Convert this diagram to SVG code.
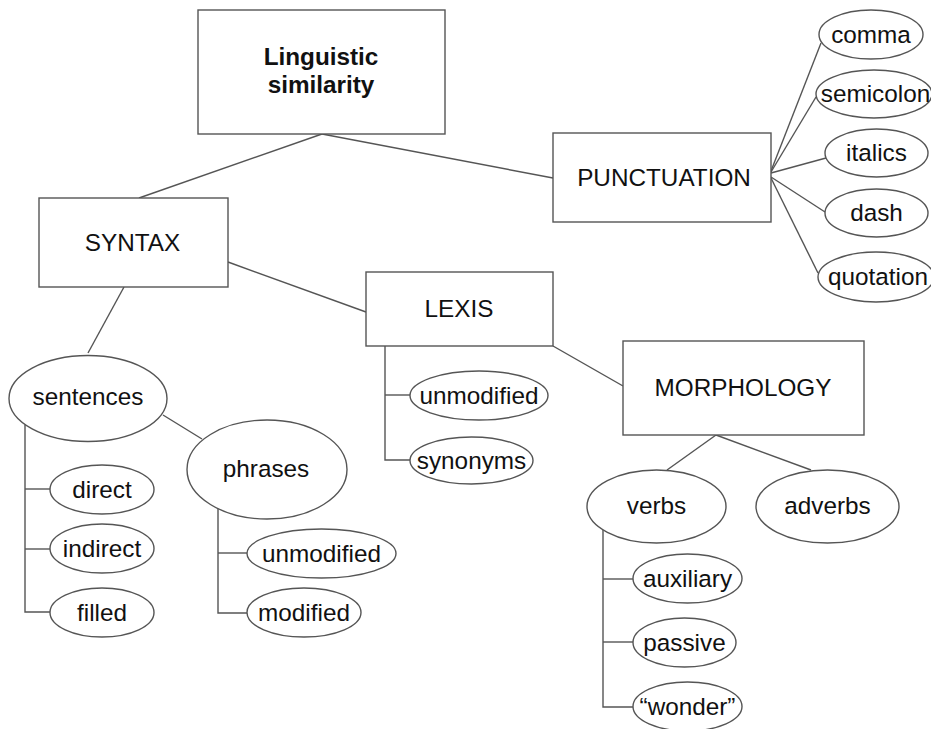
<svg xmlns="http://www.w3.org/2000/svg" width="931" height="729" viewBox="0 0 931 729">
<style>
.n rect,.n ellipse{fill:#fff;stroke:#555;stroke-width:1.4}
#edges line,#edges polyline{stroke:#555;stroke-width:1.4;fill:none}
text{font-family:"Liberation Sans",Arial,sans-serif;font-size:24.3px;fill:#111;text-anchor:middle}
.b{font-weight:bold}
</style>
<rect width="931" height="729" fill="#fff"/>
<g id="edges">
<line x1="322" y1="134" x2="139" y2="198"/>
<line x1="322" y1="134" x2="553" y2="178"/>
<line x1="771" y1="171" x2="821" y2="43"/>
<line x1="771" y1="172" x2="816" y2="97"/>
<line x1="771" y1="173" x2="826" y2="158"/>
<line x1="771" y1="177" x2="825" y2="212"/>
<line x1="771" y1="178" x2="818" y2="273"/>
<line x1="228" y1="262" x2="366" y2="312"/>
<line x1="124" y1="287" x2="88" y2="353"/>
<line x1="553" y1="346" x2="623" y2="386"/>
<polyline points="385,346 385,460 410,460"/>
<line x1="385" y1="395" x2="410" y2="395"/>
<polyline points="25,425 25,612 50,612"/>
<line x1="25" y1="489" x2="50" y2="489"/>
<line x1="25" y1="549" x2="50" y2="549"/>
<line x1="163" y1="415" x2="202" y2="439"/>
<polyline points="218,508 218,613 247,613"/>
<line x1="218" y1="553" x2="247" y2="553"/>
<line x1="716" y1="435" x2="667" y2="470"/>
<line x1="716" y1="435" x2="811" y2="470"/>
<polyline points="603,530 603,707 633,707"/>
<line x1="603" y1="579" x2="633" y2="579"/>
<line x1="603" y1="642" x2="633" y2="642"/>
</g>
<g id="linguistic" class="n"><rect x="198" y="10" width="247" height="124"/><text x="321" y="65" class="b">Linguistic</text><text x="321" y="93" class="b">similarity</text></g>
<g id="punctuation" class="n"><rect x="553" y="133" width="218" height="89"/><text x="664" y="186">PUNCTUATION</text></g>
<g id="comma" class="n"><ellipse cx="871" cy="34.5" rx="52" ry="24.5"/><text x="871" y="42.5">comma</text></g>
<g id="semicolon" class="n"><ellipse cx="874" cy="94" rx="58" ry="24"/><text x="875.5" y="102">semicolon</text></g>
<g id="italics" class="n"><ellipse cx="876.5" cy="153" rx="51.5" ry="24"/><text x="876.5" y="161">italics</text></g>
<g id="dash" class="n"><ellipse cx="876.5" cy="213" rx="51.5" ry="24"/><text x="876.5" y="221">dash</text></g>
<g id="quotation" class="n"><ellipse cx="876" cy="277" rx="58" ry="25"/><text x="878" y="285">quotation</text></g>
<g id="syntax" class="n"><rect x="39" y="198" width="189" height="89"/><text x="132.5" y="251">SYNTAX</text></g>
<g id="lexis" class="n"><rect x="366" y="272" width="187" height="74"/><text x="459" y="317">LEXIS</text></g>
<g id="lex-unmodified" class="n"><ellipse cx="479" cy="395.5" rx="69" ry="24.5"/><text x="479" y="403.5">unmodified</text></g>
<g id="synonyms" class="n"><ellipse cx="471.5" cy="460.5" rx="61.5" ry="23.5"/><text x="471.5" y="468.5">synonyms</text></g>
<g id="morphology" class="n"><rect x="623" y="341" width="241" height="94"/><text x="743" y="396">MORPHOLOGY</text></g>
<g id="sentences" class="n"><ellipse cx="88" cy="398.5" rx="79" ry="43"/><text x="88" y="404.5">sentences</text></g>
<g id="direct" class="n"><ellipse cx="102" cy="489.5" rx="52" ry="24.5"/><text x="102" y="497.5">direct</text></g>
<g id="indirect" class="n"><ellipse cx="102" cy="548.5" rx="52" ry="24.5"/><text x="102" y="556.5">indirect</text></g>
<g id="filled" class="n"><ellipse cx="102" cy="612.5" rx="52" ry="24.5"/><text x="102" y="620.5">filled</text></g>
<g id="phrases" class="n"><ellipse cx="267" cy="469.5" rx="80" ry="49.5"/><text x="266" y="477">phrases</text></g>
<g id="phr-unmodified" class="n"><ellipse cx="321.5" cy="553.5" rx="74.5" ry="24.5"/><text x="321.5" y="561.5">unmodified</text></g>
<g id="modified" class="n"><ellipse cx="304" cy="612.5" rx="57" ry="24.5"/><text x="304" y="620.5">modified</text></g>
<g id="verbs" class="n"><ellipse cx="656.5" cy="506.5" rx="69.5" ry="36.5"/><text x="656.5" y="514">verbs</text></g>
<g id="adverbs" class="n"><ellipse cx="827.5" cy="506.5" rx="71.5" ry="36.5"/><text x="827.5" y="514">adverbs</text></g>
<g id="auxiliary" class="n"><ellipse cx="687.5" cy="578.5" rx="54.5" ry="24.5"/><text x="687.5" y="586.5">auxiliary</text></g>
<g id="passive" class="n"><ellipse cx="684.5" cy="642.5" rx="51.5" ry="24.5"/><text x="684.5" y="650.5">passive</text></g>
<g id="wonder" class="n"><ellipse cx="687.5" cy="706.5" rx="54.5" ry="24.5"/><text x="687.5" y="714.5">“wonder”</text></g>
</svg>
